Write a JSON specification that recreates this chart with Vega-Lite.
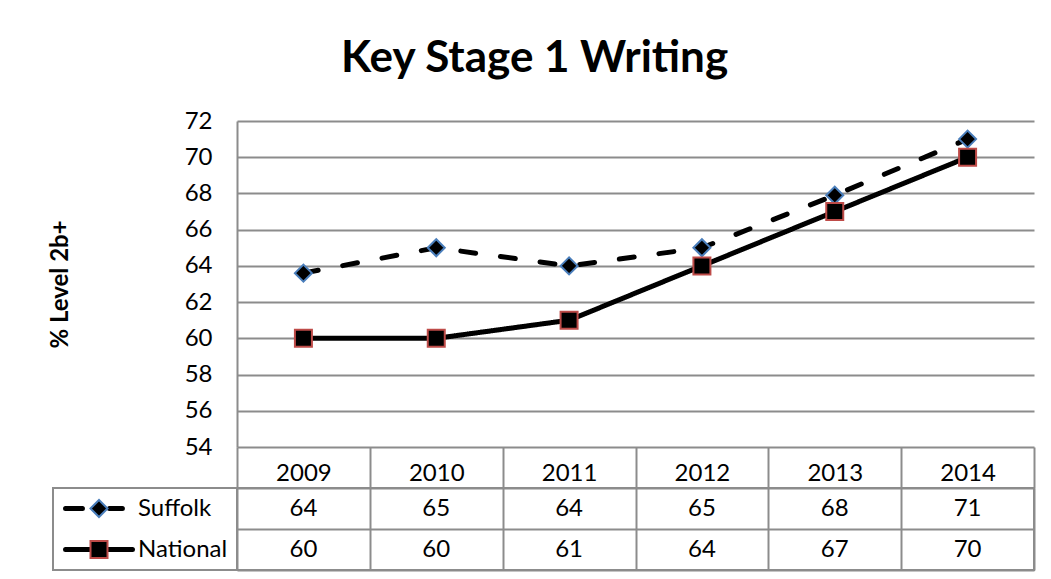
{
  "$schema": "https://vega.github.io/schema/vega-lite/v6.json",
  "background": "white",
  "padding": {"left": 48, "top": 37, "right": 18, "bottom": 9},
  "title": {"text": "Key Stage 1 Writing", "fontSize": 44, "fontWeight": "bold", "font": "Lato", "anchor": "middle", "offset": 28, "dx": -7, "color": "black"},
  "datasets": {
    "scores": [
      {"year": "2009", "series": "Suffolk", "value": 63.6},
      {"year": "2010", "series": "Suffolk", "value": 65.0},
      {"year": "2011", "series": "Suffolk", "value": 64.0},
      {"year": "2012", "series": "Suffolk", "value": 65.0},
      {"year": "2013", "series": "Suffolk", "value": 67.9},
      {"year": "2014", "series": "Suffolk", "value": 71.0},
      {"year": "2009", "series": "National", "value": 60},
      {"year": "2010", "series": "National", "value": 60},
      {"year": "2011", "series": "National", "value": 61},
      {"year": "2012", "series": "National", "value": 64},
      {"year": "2013", "series": "National", "value": 67},
      {"year": "2014", "series": "National", "value": 70}
    ],
    "rows": [{"series": "Suffolk"}, {"series": "National"}]
  },
  "columns": 2,
  "spacing": {"row": 41, "column": 0},
  "bounds": "flush",
  "concat": [
    {
      "width": 184,
      "height": 326,
      "view": {"stroke": null},
      "data": {"values": []},
      "mark": "point"
    },
    {
      "width": 797,
      "height": 326,
      "view": {"stroke": null},
      "data": {"name": "scores"},
      "encoding": {
        "x": {
          "field": "year", "type": "ordinal",
          "scale": {"paddingInner": 0, "paddingOuter": 0},
          "axis": {"title": null, "orient": "bottom", "domain": false, "grid": false, "ticks": true, "tickBand": "extent", "tickSize": 41, "tickColor": "#8c8c8c", "tickWidth": 2, "labelAngle": 0, "labelFontSize": 24, "labelColor": "black", "labelBaseline": "alphabetic", "labelPadding": -8}
        },
        "y": {
          "field": "value", "type": "quantitative",
          "scale": {"domain": [54, 72], "nice": false, "zero": false},
          "axis": {"title": "% Level 2b+", "titleFontSize": 24, "titleFontWeight": "bold", "titleColor": "black", "titlePadding": 112, "values": [54, 56, 58, 60, 62, 64, 66, 68, 70, 72], "grid": true, "gridColor": "#8c8c8c", "gridWidth": 2, "domain": true, "domainColor": "#8c8c8c", "domainWidth": 2, "ticks": false, "labelPadding": 25, "labelFontSize": 24, "labelColor": "black"}
        }
      },
      "layer": [
        {
          "mark": {"type": "line", "color": "black", "strokeWidth": 5, "strokeCap": "round", "strokeJoin": "round"},
          "encoding": {
            "detail": {"field": "series", "type": "nominal"},
            "strokeDash": {"field": "series", "type": "nominal", "scale": {"domain": ["Suffolk", "National"], "range": [[15, 25], [1, 0]]}, "legend": null}
          }
        },
        {
          "mark": {"type": "point", "filled": true, "fill": "black", "strokeWidth": 2, "size": 289, "opacity": 1},
          "encoding": {
            "shape": {"field": "series", "type": "nominal", "scale": {"domain": ["Suffolk", "National"], "range": ["diamond", "square"]}, "legend": null},
            "stroke": {"field": "series", "type": "nominal", "scale": {"domain": ["Suffolk", "National"], "range": ["#4a7ebb", "#be4b48"]}, "legend": null}
          }
        }
      ]
    },
    {
      "width": 184,
      "height": 82,
      "data": {"name": "rows"},
      "encoding": {
        "y": {"field": "series", "type": "nominal", "sort": ["Suffolk", "National"], "scale": {"paddingInner": 0, "paddingOuter": 0}, "axis": null}
      },
      "layer": [
        {
          "transform": [{"filter": "datum.series === 'Suffolk'"}],
          "mark": {"type": "point", "shape": "M-0.93,0L-0.46,0M0.29,0L0.65,0", "size": 5184, "filled": false, "color": "black", "stroke": "black", "strokeWidth": 5, "strokeCap": "round", "opacity": 1},
          "encoding": {
            "x": {"datum": "symbol", "type": "nominal", "scale": {"domain": ["symbol", "label"], "paddingInner": 0, "paddingOuter": 0}, "axis": null}
          }
        },
        {
          "transform": [{"filter": "datum.series === 'National'"}],
          "mark": {"type": "point", "shape": "M-0.93,0L0.93,0", "size": 5184, "filled": false, "color": "black", "stroke": "black", "strokeWidth": 5, "strokeCap": "round", "opacity": 1},
          "encoding": {
            "x": {"datum": "symbol", "type": "nominal"}
          }
        },
        {
          "mark": {"type": "point", "filled": true, "fill": "black", "strokeWidth": 2, "size": 289, "opacity": 1},
          "encoding": {
            "x": {"datum": "symbol", "type": "nominal"},
            "shape": {"field": "series", "type": "nominal", "scale": {"domain": ["Suffolk", "National"], "range": ["diamond", "square"]}, "legend": null},
            "stroke": {"field": "series", "type": "nominal", "scale": {"domain": ["Suffolk", "National"], "range": ["#4a7ebb", "#be4b48"]}, "legend": null}
          }
        },
        {
          "mark": {"type": "text", "fontSize": 24, "align": "left", "baseline": "middle", "dx": -53, "color": "black"},
          "encoding": {
            "x": {"datum": "label", "type": "nominal"},
            "text": {"field": "series", "type": "nominal"}
          }
        }
      ]
    },
    {
      "width": 797,
      "height": 82,
      "data": {"name": "scores"},
      "encoding": {
        "x": {
          "field": "year", "type": "ordinal",
          "scale": {"paddingInner": 0, "paddingOuter": 0},
          "axis": {"title": null, "labels": false, "ticks": false, "domain": false, "grid": true, "tickBand": "extent", "gridColor": "#8c8c8c", "gridWidth": 2}
        },
        "y": {
          "field": "series", "type": "nominal", "sort": ["Suffolk", "National"],
          "scale": {"paddingInner": 0, "paddingOuter": 0},
          "axis": {"title": null, "labels": false, "ticks": false, "domain": false, "grid": true, "tickBand": "extent", "gridColor": "#8c8c8c", "gridWidth": 2}
        },
        "text": {"field": "value", "type": "quantitative", "format": ".0f"}
      },
      "mark": {"type": "text", "fontSize": 24, "baseline": "middle", "align": "center", "color": "black"}
    }
  ],
  "config": {
    "font": "Lato",
    "view": {"stroke": "#8c8c8c", "strokeWidth": 2},
    "axis": {"labelFont": "Lato", "titleFont": "Lato", "labelColor": "black"},
    "text": {"font": "Lato"}
  }
}
